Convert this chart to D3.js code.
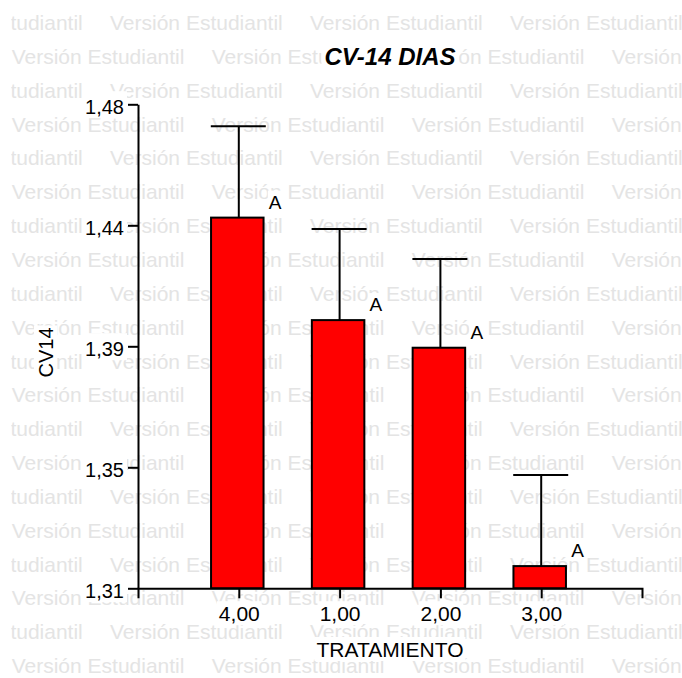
<!DOCTYPE html>
<html>
<head>
<meta charset="utf-8">
<script src="https://cdn.jsdelivr.net/npm/d3@7"></script>
<style>
  html, body { margin: 0; padding: 0; background: #fff; }
  svg { display: block; }
  text { font-family: "Liberation Sans", Arial, sans-serif; }
</style>
</head>
<body>
<svg id="chart" width="682" height="678"></svg>
<script>
// ---- data ----
const categories = ["4,00", "1,00", "2,00", "3,00"];
const means = [1.4402, 1.4042, 1.3945, 1.3178];
const errors = [0.0321, 0.0320, 0.0312, 0.0320];
const letters = ["A", "A", "A", "A"];
const yTickLabels = ["1,31", "1,35", "1,39", "1,44", "1,48"];
const yDomain = [1.31, 1.48];
const titleText = "CV-14 DIAS";
const xTitle = "TRATAMIENTO";
const yTitle = "CV14";
const watermark = "Versión Estudiantil";

const W = 682, H = 678;
const svg = d3.select("#chart");
svg.append("rect").attr("width", W).attr("height", H).attr("fill", "#fff");

// ---- watermark ----
svg.append("clipPath").attr("id", "wmclip")
  .append("rect").attr("x", 11.3).attr("y", 0).attr("width", W).attr("height", H);
const wm = svg.append("g").attr("clip-path", "url(#wmclip)")
  .attr("fill", "#e4e4e4").attr("font-size", 21);
const rowStep = 33.85, firstBase = 30, period = 200;
for (let k = 0; k <= 19; k++) {
  const yy = firstBase + rowStep * k;
  const start = (k % 2 === 1) ? 11.7 : 110;
  for (let xx = start - period; xx < W; xx += period) {
    wm.append("text").attr("x", xx).attr("y", yy).text(watermark);
  }
}

// ---- scales ----
const plot = { left: 138, right: 642, top: 104.3, bottom: 588.3 };
const x = d3.scalePoint().domain(categories).range([plot.left, plot.right]).padding(1);
const y = d3.scaleLinear().domain(yDomain).range([plot.bottom, plot.top]);
const yTickValues = yTickLabels.map((_, i) => yDomain[0] + i * (yDomain[1] - yDomain[0]) / (yTickLabels.length - 1));

function boxText(sel, pad, padTop) {
  sel.each(function () {
    const b = this.getBBox();
    const p = this.parentNode;
    const r = document.createElementNS("http://www.w3.org/2000/svg", "rect");
    const pt = padTop || 1;
    r.setAttribute("x", b.x - pad);
    r.setAttribute("y", b.y - pt);
    r.setAttribute("width", b.width + 2 * pad);
    r.setAttribute("height", b.height + pt);
    r.setAttribute("fill", "#fff");
    const t = this.getAttribute("transform");
    if (t) r.setAttribute("transform", t);
    p.insertBefore(r, this);
  });
}

// ---- title ----
const title = svg.append("text")
  .attr("x", (plot.left + plot.right) / 2).attr("y", 65)
  .attr("text-anchor", "middle")
  .attr("font-size", 24).attr("font-weight", "bold").attr("font-style", "italic")
  .attr("fill", "#000").text(titleText);
boxText(title, 3);

// ---- bars ----
const bw = 52.5;
const bars = svg.append("g");
bars.selectAll("rect.bar").data(categories).join("rect")
  .attr("class", "bar")
  .attr("x", (d) => x(d) - bw / 2 - 1.5)
  .attr("y", (d, i) => y(means[i]))
  .attr("width", bw)
  .attr("height", (d, i) => y(yDomain[0]) - y(means[i]))
  .attr("fill", "#ff0000").attr("stroke", "#000").attr("stroke-width", 2);

// ---- error bars ----
const eb = svg.append("g").attr("stroke", "#000").attr("stroke-width", 2);
eb.selectAll("line.v").data(categories).join("line")
  .attr("class", "v")
  .attr("x1", (d) => x(d)).attr("x2", (d) => x(d))
  .attr("y1", (d, i) => y(means[i])).attr("y2", (d, i) => y(means[i] + errors[i]));
eb.selectAll("line.c").data(categories).join("line")
  .attr("class", "c")
  .attr("x1", (d) => x(d) - 28).attr("x2", (d) => x(d) + 27)
  .attr("y1", (d, i) => y(means[i] + errors[i])).attr("y2", (d, i) => y(means[i] + errors[i]));

// ---- letters ----
const lt = svg.append("g").attr("font-size", 19).attr("fill", "#000");
lt.selectAll("text").data(categories).join("text")
  .attr("x", (d) => x(d) + 30)
  .attr("y", (d, i) => y(means[i]) - 9)
  .text((d, i) => letters[i]);
boxText(lt.selectAll("text"), 1);

// ---- axes ----
const xAxis = svg.append("g")
  .attr("transform", `translate(0,${plot.bottom})`)
  .call(d3.axisBottom(x).tickSize(10).tickSizeOuter(10).tickPadding(8));
const yAxis = svg.append("g")
  .attr("transform", `translate(${plot.left},0)`)
  .call(d3.axisLeft(y).tickValues(yTickValues).tickFormat((d, i) => yTickLabels[i])
    .tickSize(10).tickSizeOuter(0).tickPadding(4));

[xAxis, yAxis].forEach((g) => {
  g.attr("font-family", null).attr("font-size", null);
  g.selectAll("path, line").attr("stroke", "#000").attr("stroke-width", 2);
  g.selectAll("text").attr("fill", "#000").attr("font-family", '"Liberation Sans", Arial, sans-serif');
});
xAxis.selectAll("text").attr("font-size", 21);
yAxis.selectAll("text").attr("font-size", 20).attr("dy", "0.47em");
boxText(xAxis.selectAll(".tick text"), 2);
boxText(yAxis.selectAll(".tick text"), 3, 5);

// ---- axis titles ----
const xt = svg.append("text")
  .attr("x", (plot.left + plot.right) / 2).attr("y", 657)
  .attr("text-anchor", "middle").attr("font-size", 21).attr("fill", "#000")
  .text(xTitle);
boxText(xt, 2);

const yt = svg.append("text")
  .attr("transform", "translate(53,352.5) rotate(-90)")
  .attr("text-anchor", "middle").attr("font-size", 20).attr("fill", "#000")
  .text(yTitle);
boxText(yt, 2);
</script>
</body>
</html>
